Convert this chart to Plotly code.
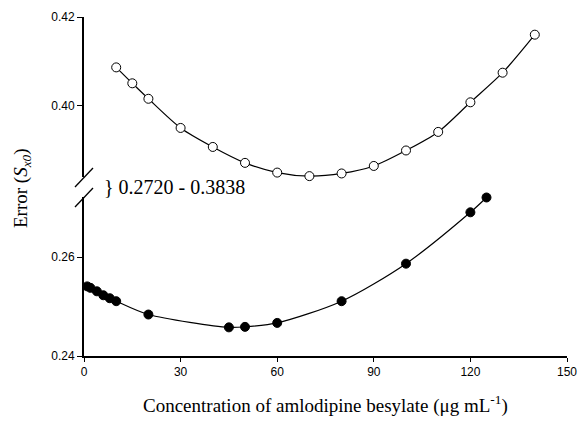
import plotly.graph_objects as go

# Open circles (upper series)
x_open = [10, 15, 20, 30, 40, 50, 60, 70, 80, 90, 100, 110, 120, 130, 140]
y_open = [0.4086, 0.4050, 0.4015, 0.3949, 0.3906, 0.3870, 0.3848, 0.3840,
          0.3846, 0.3863, 0.3898, 0.3940, 0.4007, 0.4074, 0.4160]

# Filled circles (lower series)
x_fill = [1, 2, 4, 6, 8, 10, 20, 45, 50, 60, 80, 100, 120, 125]
y_fill = [0.2541, 0.2538, 0.2531, 0.2523, 0.2517, 0.2511, 0.2484, 0.2458,
          0.2459, 0.2467, 0.2511, 0.2587, 0.2691, 0.2721]

x_ticks = [0, 30, 60, 90, 120, 150]
y_low_ticks = [0.24, 0.26]
y_up_ticks = [0.40, 0.42]
break_text = "} 0.2720 - 0.3838"

W, H = 579, 422
L = 84
R = W - 567
T = 17
B = H - 356
ph = H - T - B
pw = W - L - R

def py(pix):
    return (H - B - pix) / ph

def px(pix):
    return (pix - L) / pw

fig = go.Figure()
fig.add_trace(go.Scatter(
    x=x_fill, y=y_fill, mode="lines+markers", xaxis="x", yaxis="y",
    line=dict(color="black", width=1.2, shape="spline", smoothing=0.8),
    marker=dict(symbol="circle", size=9, color="black",
                line=dict(color="black", width=1)),
    showlegend=False, cliponaxis=False))
fig.add_trace(go.Scatter(
    x=x_open, y=y_open, mode="lines+markers", xaxis="x", yaxis="y2",
    line=dict(color="black", width=1.2, shape="spline", smoothing=0.8),
    marker=dict(symbol="circle", size=9, color="white",
                line=dict(color="black", width=1)),
    showlegend=False, cliponaxis=False))

tickfont = dict(family="Liberation Sans, Arial", size=12, color="black")

fig.update_layout(
    width=W, height=H,
    margin=dict(l=L, r=R, t=T, b=B, autoexpand=False),
    paper_bgcolor="white", plot_bgcolor="white",
    xaxis=dict(range=[0, 150], tickvals=x_ticks, ticks="outside", ticklen=4,
               tickwidth=1.2, tickcolor="black", showline=True, linecolor="black",
               linewidth=2, showgrid=False, zeroline=False, anchor="y",
               tickfont=tickfont, automargin=False),
    yaxis=dict(domain=[0, py(197)], range=[0.24, 0.2722], tickvals=y_low_ticks,
               tickformat=".2f", ticks="outside", ticklen=5, tickwidth=1.2,
               tickcolor="black", showline=True, linecolor="black", linewidth=2,
               showgrid=False, zeroline=False, anchor="x", tickfont=tickfont,
               automargin=False),
    yaxis2=dict(domain=[py(177), 1], range=[0.3838, 0.42], tickvals=y_up_ticks,
                tickformat=".2f", ticks="outside", ticklen=5, tickwidth=1.2,
                tickcolor="black", showline=True, linecolor="black", linewidth=2,
                showgrid=False, zeroline=False, anchor="x", tickfont=tickfont,
                automargin=False),
)

# break marks
for y0, y1 in [(187, 168), (207, 188)]:
    fig.add_shape(type="line", xref="paper", yref="paper",
                  x0=px(75), x1=px(93), y0=py(y0), y1=py(y1),
                  line=dict(color="black", width=1.3))

fig.add_annotation(x=px(102), y=py(187), xref="paper", yref="paper",
                   text=break_text, showarrow=False, xanchor="left",
                   yanchor="middle",
                   font=dict(family="Liberation Serif, Times New Roman", size=20,
                             color="black"))

fig.add_annotation(x=px(22), y=py(188), xref="paper", yref="paper",
                   text="Error (<i>S<sub>x0</sub></i>)", showarrow=False,
                   textangle=-90, xanchor="center", yanchor="middle",
                   font=dict(family="Liberation Serif, Times New Roman", size=19,
                             color="black"))

fig.add_annotation(x=px(325), y=py(404), xref="paper", yref="paper",
                   text="Concentration of amlodipine besylate (μg mL<sup>-1</sup>)",
                   showarrow=False, xanchor="center", yanchor="middle",
                   font=dict(family="Liberation Serif, Times New Roman", size=19,
                             color="black"))

fig.write_html(
    "out.html",
    config={"displayModeBar": False},
    post_script="document.body.style.margin='0';"
                "document.body.style.overflow='hidden';",
)
